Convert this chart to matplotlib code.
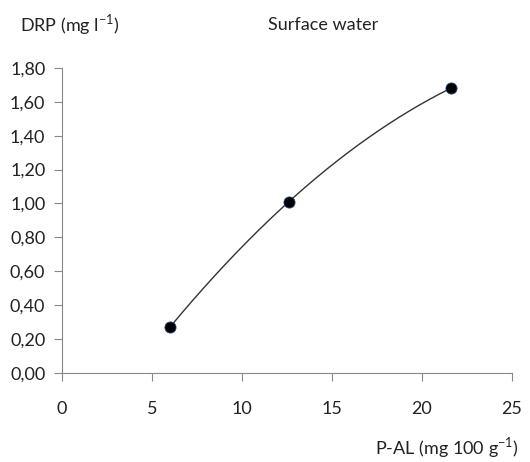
import matplotlib.pyplot as plt
import numpy as np
from matplotlib.ticker import FuncFormatter

plt.rcParams['font.family'] = ['Lato', 'DejaVu Sans']

# data
p_al = [6.0, 12.6, 21.6]
drp = [0.27, 1.01, 1.68]

# 2nd order trendline through the points
coef = np.polyfit(p_al, drp, 2)
xs = np.linspace(min(p_al), max(p_al), 200)
ys = np.polyval(coef, xs)

fig = plt.figure(figsize=(5.3, 4.62), dpi=100)
ax = fig.add_axes([0.117, 0.193, 0.849, 0.66])

ax.plot(xs, ys, color='#333333', lw=1.0, zorder=2)
ax.plot(p_al, drp, 'o', color='black', markeredgecolor='#1f3f7f',
        markeredgewidth=0.6, markersize=8, zorder=3)

ax.set_xlim(0, 25)
ax.set_ylim(0, 1.8)
ax.set_xticks(np.arange(0, 26, 5))
ax.set_yticks(np.arange(0, 1.81, 0.2))
ax.yaxis.set_major_formatter(FuncFormatter(lambda v, p: f'{v:.2f}'.replace('.', ',')))

for s in ['top', 'right']:
    ax.spines[s].set_visible(False)
for s in ['left', 'bottom']:
    ax.spines[s].set_color('#888888')
ax.tick_params(colors='#888888', labelcolor='#222222', labelsize=13, length=6)
ax.tick_params(axis='x', pad=14)
ax.tick_params(axis='y', pad=6)

fig.text(0.038, 0.946, 'DRP (mg l$^{\\mathregular{-1}}$)', fontsize=13, color='#222222', va='center')
fig.text(0.61, 0.945, 'Surface water', fontsize=13, color='#222222', ha='center', va='center')
fig.text(0.978, 0.032, 'P-AL (mg 100 g$^{\\mathregular{-1}}$)', fontsize=13, color='#222222', ha='right', va='center')

fig.savefig('out.png', dpi=100)
